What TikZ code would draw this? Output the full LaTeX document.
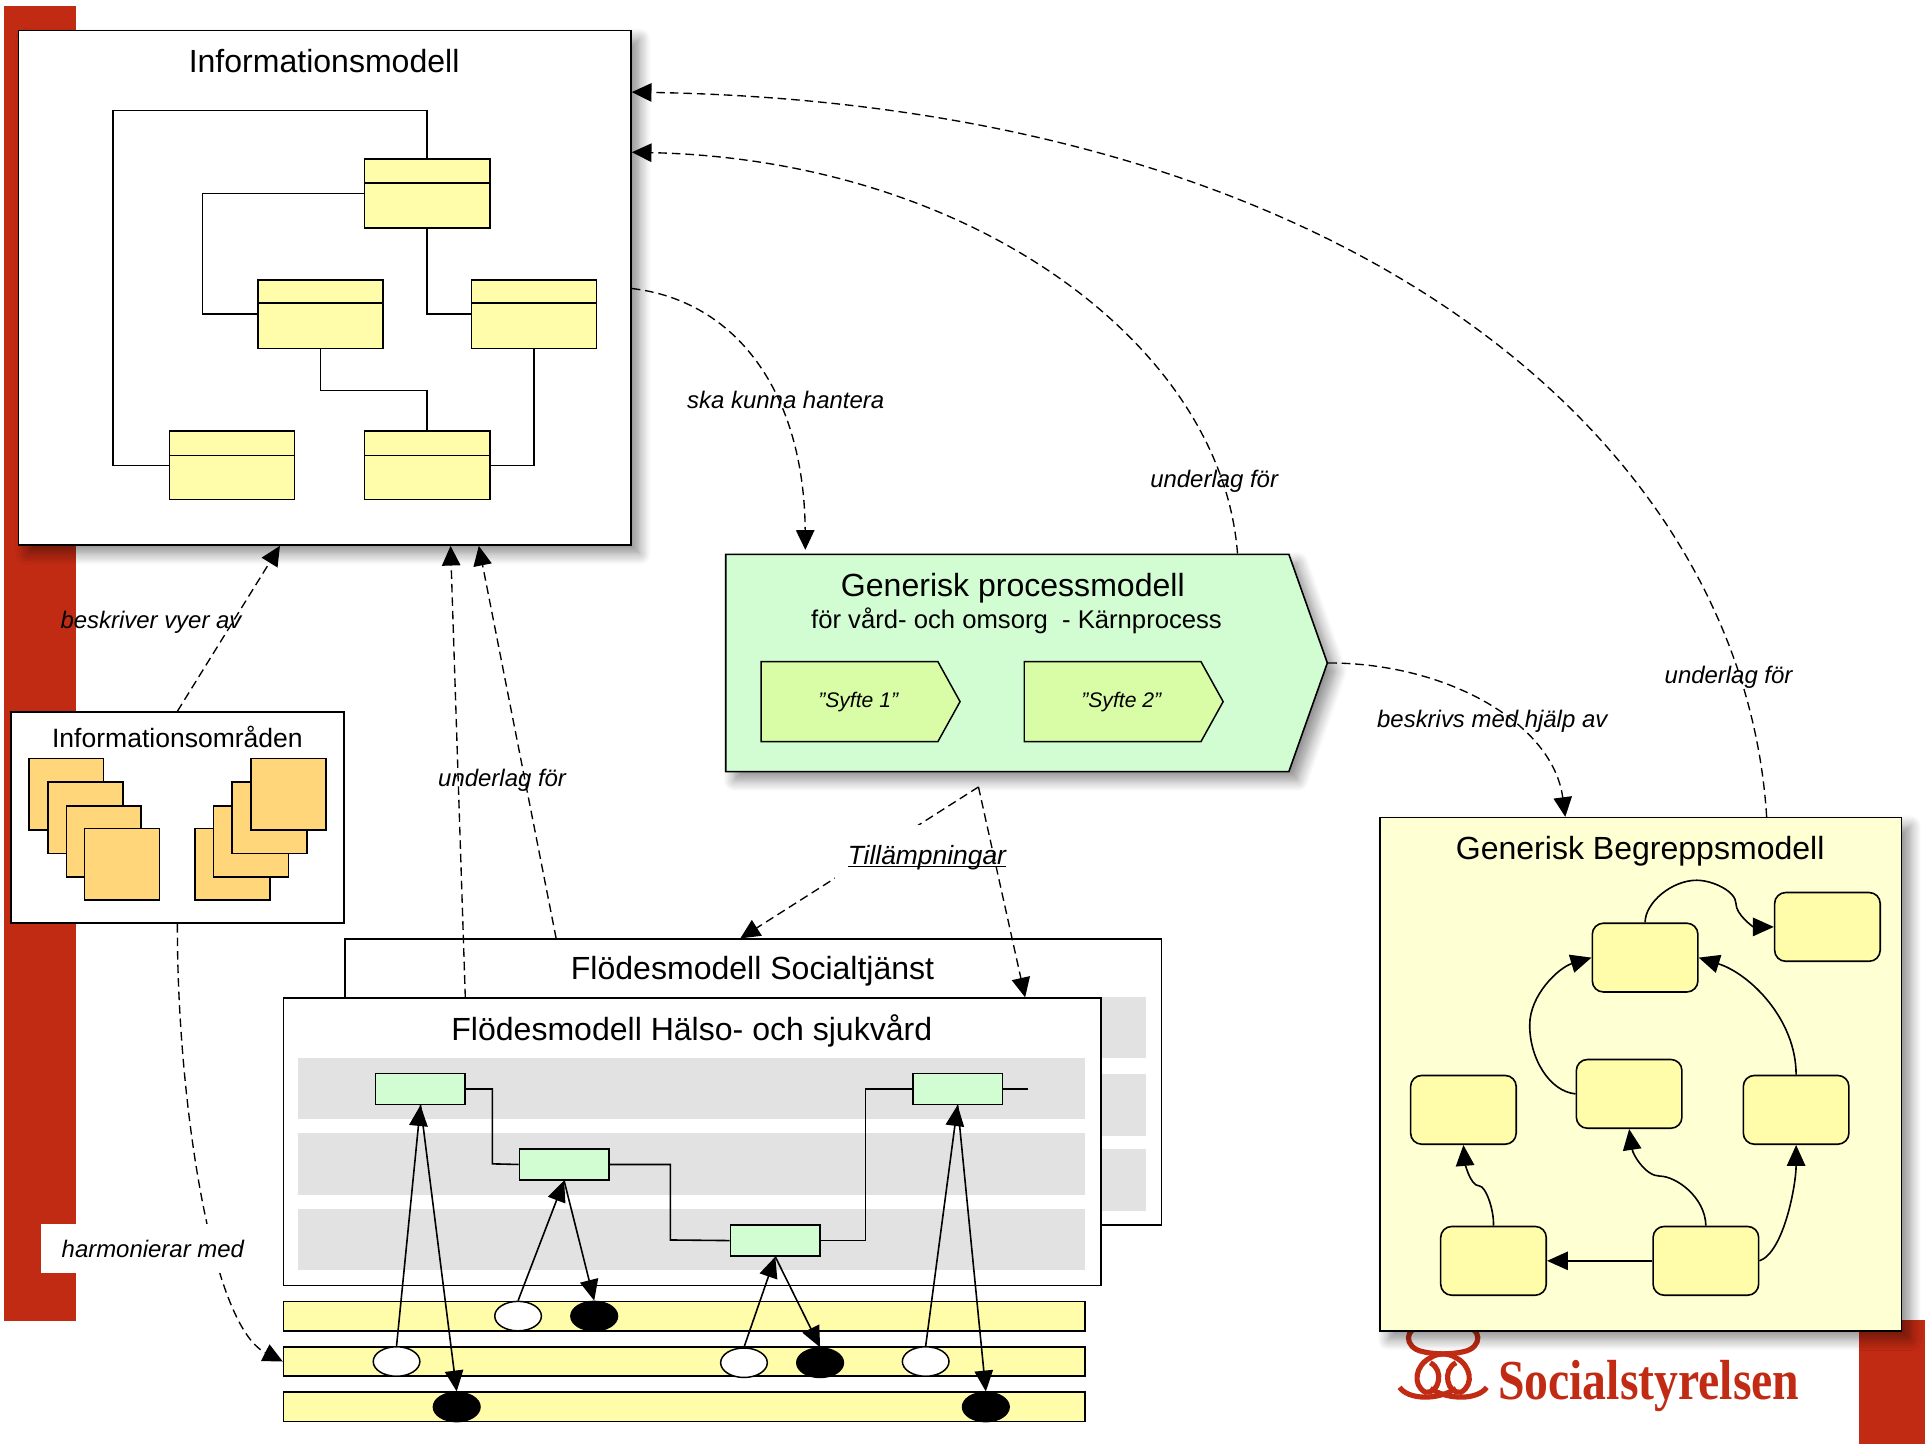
\documentclass[tikz,border=0pt]{standalone}
\usepackage{fontspec}
\setmainfont{Liberation Sans}
\newfontfamily\logofont[FakeStretch=0.845]{Liberation Serif}
\usepackage{tikz}
\usetikzlibrary{calc,positioning,arrows.meta,shapes.geometric,shapes.symbols,shadows.blur}
\definecolor{bandred}{HTML}{C12A13}
\definecolor{classyellow}{HTML}{FFFCAA}
\definecolor{paleyellow}{HTML}{FFFFD4}
\definecolor{procgreen}{HTML}{D2FDD2}
\definecolor{syftegreen}{HTML}{D8FDA6}
\definecolor{orangebox}{HTML}{FFD67A}
\definecolor{laneGray}{HTML}{E2E2E2}
\tikzset{
	bigtitle/.style={font=\fontsize{26.1}{30}\selectfont},
	edgelabel/.style={font=\fontsize{19.5}{23}\selectfont\itshape},
	modelbox/.style={draw, line width=1.3pt, inner sep=0pt},
	shadowed/.style={blur shadow={shadow blur steps=10, shadow xshift=7pt, shadow yshift=-7pt, shadow blur radius=9pt, shadow opacity=45}},
	classbox/.style={draw, fill=classyellow, line width=1.3pt, minimum width=102pt, minimum height=56pt, inner sep=0pt},
	stackbox/.style={draw, fill=orangebox, line width=1.2pt, minimum width=61pt, minimum height=58pt, inner sep=0pt},
	syftebox/.style={draw, fill=syftegreen, line width=1.2pt, signal, signal to=east, signal pointer angle=122, inner sep=0pt, minimum width=162pt, minimum height=65pt, font=\fontsize{17.2}{20}\selectfont\itshape},
	lane/.style={fill=laneGray, minimum width=641pt, minimum height=50pt, inner sep=0pt},
	activity/.style={draw, fill=procgreen, line width=1.3pt, minimum width=73pt, minimum height=25pt, inner sep=0pt},
	databar/.style={draw, fill=classyellow, line width=1.3pt, minimum width=653pt, minimum height=24pt, inner sep=0pt},
	openstate/.style={ellipse, draw, fill=white, line width=1.2pt, minimum width=38pt, minimum height=24pt, inner sep=0pt},
	fullstate/.style={ellipse, draw, fill=black, line width=1.2pt, minimum width=38pt, minimum height=24pt, inner sep=0pt},
	termbox/.style={draw, fill=classyellow, rounded corners=9pt, line width=1.3pt, minimum width=86pt, minimum height=56pt, inner sep=0pt},
	plain/.style={line width=1.3pt},
	logoline/.style={bandred, line width=4.2pt},
	dep/.style={dash pattern=on 7pt off 4pt, line width=1.1pt, -{Triangle[length=16pt,width=15pt]}},
	flowarrow/.style={line width=1.3pt, -{Triangle[length=17pt,width=15pt]}}
}
\begin{document}
\begin{tikzpicture}[x=1pt, y=-1pt]
	\useasboundingbox (0,0) rectangle (1568,1176);
	% Background bands and logo
	\fill[bandred] (3,5) rectangle (62,1076);
	\fill[bandred] (1514,1075) rectangle (1568,1176);
	\node[font=\logofont\bfseries\fontsize{46}{50}\selectfont, text=bandred, anchor=base west, inner sep=0pt] (Logo) at (1220,1140) {Socialstyrelsen};
	\draw[logoline] (1190,1080) .. controls (1208,1080) and (1208,1098) .. (1192,1101) .. controls (1180,1104) and (1172,1101) .. (1165,1106) .. controls (1153,1112) and (1150,1128) .. (1161,1134) .. controls (1172,1136) and (1177,1116) .. (1165,1110);
	\draw[logoline] (1161,1080) .. controls (1143,1080) and (1143,1098) .. (1159,1101) .. controls (1171,1104) and (1179,1101) .. (1186,1106) .. controls (1198,1112) and (1201,1128) .. (1190,1134) .. controls (1179,1136) and (1174,1116) .. (1186,1110);
	\draw[logoline] (1140,1130) .. controls (1147,1140) and (1170,1141) .. (1186,1131);
	\draw[logoline] (1211,1130) .. controls (1204,1140) and (1181,1141) .. (1165,1131);
	% Informationsmodell
	\node[modelbox, fill=white, shadowed, minimum width=499pt, minimum height=419pt] (Info) at (264.5,234.5) {};
	\node[bigtitle] (InfoTitle) at (264,50) {Informationsmodell};
	\node[classbox] (ClassTop) at (348,157.5) {};
	\node[classbox] (ClassLeft) at (261,256) {};
	\node[classbox] (ClassRight) at (435,256) {};
	\node[classbox] (ClassLow) at (189,379) {};
	\node[classbox] (ClassMid) at (348,379) {};
	\foreach \c/\y in {ClassTop/149,ClassLeft/247,ClassRight/247,ClassLow/371,ClassMid/371}
		\draw[plain] (\c.west |- 0,\y) -- (\c.east |- 0,\y);
	\draw[plain] (ClassTop.north) -- ++(0,-39) -| (92,379) -- (ClassLow.west);
	\draw[plain] (ClassTop.west) -| (165,256) -- (ClassLeft.west);
	\draw[plain] (ClassTop.south) |- (ClassRight.west);
	\draw[plain] (ClassLeft.south) |- (348,318) -- (ClassMid.north);
	\draw[plain] (ClassRight.south) |- (ClassMid.east);
	% Generisk processmodell
	\node[modelbox, fill=procgreen, shadowed, signal, signal to=east, signal pointer angle=141, minimum width=490pt, minimum height=177pt] (Process) at (820.5,540) {};
	\node[bigtitle] (ProcessTitle) at (825,479) {Generisk processmodell};
	\node[font=\fontsize{20.9}{25}\selectfont] (ProcessSub) at (828,506) {för vård- och omsorg\ \ - Kärnprocess};
	\node[syftebox] (SyfteOne) at (692,571.5) {\hspace*{14pt}\raisebox{-1.5pt}{”Syfte 1”}};
	\node[syftebox, right=51pt of SyfteOne] (SyfteTwo) {\hspace*{14pt}\raisebox{-1.5pt}{”Syfte 2”}};
	% Informationsomraden
	\node[modelbox, fill=white, minimum width=271pt, minimum height=172pt] (Omraden) at (144.5,666) {};
	\node[font=\fontsize{21.6}{26}\selectfont] (OmradenTitle) at (144.5,600.5) {Informationsområden};
	\node[stackbox] (LeftA) at (54,647) {};
	\node[stackbox] (LeftB) at (69.5,666) {};
	\node[stackbox] (LeftC) at (84.5,685.5) {};
	\node[stackbox] (LeftD) at (99.5,704) {};
	\node[stackbox] (RightA) at (189.5,704) {};
	\node[stackbox] (RightB) at (204.5,685.5) {};
	\node[stackbox] (RightC) at (219.5,666) {};
	\node[stackbox] (RightD) at (235,647) {};
	% Flodesmodeller
	\node[modelbox, fill=white, minimum width=665pt, minimum height=233pt] (FlowSoc) at (613.5,881.5) {};
	\node[bigtitle] (FlowSocTitle) at (613,791) {Flödesmodell Socialtjänst};
	\foreach \y [count=\i] in {837,900,961}
		\node[lane] (SocLane\i) at (613,\y) {};
	\node[modelbox, fill=white, minimum width=666pt, minimum height=234pt] (FlowHS) at (564,930) {};
	\node[bigtitle] (FlowHSTitle) at (563.5,840) {Flödesmodell Hälso- och sjukvård};
	\foreach \y [count=\i] in {886.5,948,1009.5}
		\node[lane] (Lane\i) at (563.5,\y) {};
	\node[activity] (ActA) at (342.5,887) {};
	\node[activity] (ActB) at (459.5,948.5) {};
	\node[activity] (ActC) at (631.5,1010.5) {};
	\node[activity] (ActD) at (780,887) {};
	\coordinate (ActEnd) at (837,887);
	\draw[plain] (ActA.east) -| (401,948) -- (ActB.west);
	\draw[plain] (ActB.east) -| (546,1010) -- (ActC.west);
	\draw[plain] (ActC.east) -| (705,887) -- (ActD.west);
	\draw[plain] (ActD.east) -- (ActEnd);
	% Databars and states
	\node[databar] (BarOne) at (557.5,1072) {};
	\node[databar] (BarTwo) at (557.5,1109) {};
	\node[databar] (BarThree) at (557.5,1146) {};
	\node[openstate] (OpenA) at (422,1072) {};
	\node[fullstate] (FullA) at (484,1072) {};
	\node[openstate] (OpenB) at (323,1109) {};
	\node[openstate] (OpenC) at (606,1110) {};
	\node[fullstate] (FullC) at (668,1110) {};
	\node[openstate] (OpenD) at (754,1109) {};
	\node[fullstate] (FullB) at (372,1146) {};
	\node[fullstate] (FullD) at (803,1146) {};
	\draw[flowarrow] (OpenB.north) -- (ActA.south);
	\draw[flowarrow] (ActA.south) -- (FullB.north);
	\draw[flowarrow] (OpenA.north) -- (ActB.south);
	\draw[flowarrow] (ActB.south) -- (FullA.north);
	\draw[flowarrow] (OpenC.north) -- (ActC.south);
	\draw[flowarrow] (ActC.south) -- (FullC.north);
	\draw[flowarrow] (OpenD.north) -- (ActD.south);
	\draw[flowarrow] (ActD.south) -- (FullD.north);
	% Generisk Begreppsmodell
	\node[modelbox, fill=paleyellow, shadowed, minimum width=425pt, minimum height=418pt] (Begrepp) at (1336.5,875) {};
	\node[bigtitle] (BegreppTitle) at (1336,693) {Generisk Begreppsmodell};
	\node[termbox] (TermA) at (1340,780) {};
	\node[termbox] (TermB) at (1488.5,755) {};
	\node[termbox] (TermC) at (1327,891) {};
	\node[termbox] (TermD) at (1463,904) {};
	\node[termbox] (TermE) at (1192,904) {};
	\node[termbox] (TermF) at (1216.5,1027) {};
	\node[termbox] (TermG) at (1389.5,1027) {};
	\draw[flowarrow] (TermG.west) -- (TermF.east);
	\draw[flowarrow] (TermG.east) .. controls (1453,1020) and (1463,965) .. (TermD.south);
	\draw[flowarrow] (TermG.north) .. controls (1389,975) and (1365,958) .. (1352,958) .. controls (1340,958) and (1330,940) .. (TermC.south);
	\draw[flowarrow] (TermF.north) .. controls (1217,985) and (1210,966) .. (1205,966) .. controls (1197,966) and (1193,945) .. (TermE.south);
	\draw[flowarrow] (TermC.west) .. controls (1262,889) and (1246,862) .. (1246,835) .. controls (1246,810) and (1270,788) .. (TermA.west);
	\draw[flowarrow] (TermD.north) .. controls (1463,830) and (1425,793) .. (TermA.east);
	\draw[flowarrow] (TermA.north) .. controls (1340,735) and (1362,717) .. (1382,717) .. controls (1395,717) and (1414,726) .. (1414,736) .. controls (1414,745) and (1428,755) .. (TermB.west);
	% Dashed dependencies
	\draw[dep, shorten >=3pt] (Info.east |- 0,235) .. controls (600,245) and (655,320) .. (Process.north -| 656,0);
	\node[edgelabel] (HanteraLabel) at (640,325.5) {ska kunna hantera};
	\draw[dep] (Process.north -| 1008,0) .. controls (995,280) and (790,130) .. (Info.east |- 0,124);
	\node[edgelabel] (UnderlagProc) at (989,392) {underlag för};
	\draw[dep] (Begrepp.north -| 1439,0) .. controls (1420,360) and (1100,85) .. (Info.east |- 0,75);
	\node[edgelabel] (UnderlagBegr) at (1408,551.5) {underlag för};
	\draw[dep] (Process.east) .. controls (1180,540) and (1265,590) .. (Begrepp.north -| 1275,0);
	\node[edgelabel] (BeskrivsLabel) at (1215.5,587.5) {beskrivs med hjälp av};
	\draw[dep] (Omraden.north) -- (Info.south -| 228,0);
	\node[edgelabel] (VyerLabel) at (123,507) {beskriver vyer av};
	\draw[dep] (FlowHS.north -| 379,0) -- (Info.south -| 367,0);
	\draw[dep] (FlowSoc.north -| 453,0) -- (Info.south -| 390,0);
	\node[edgelabel] (UnderlagFlow) at (409,635.5) {underlag för};
	% Tillampningar
	\coordinate (Fork) at (797,641);
	\draw[dep] (Fork) -- (FlowSoc.north -| 603,0);
	\node[fill=white, minimum width=150pt, minimum height=44pt, font=\fontsize{21.5}{25}\selectfont\itshape] (TillLabel) at (755,694) {\smash{\raisebox{-10pt}{\underline{\smash{Tillämpningar}}}}};
	\draw[dep] (Fork) -- (FlowHS.north -| 835,0);
	% Harmonierar
	\draw[dep] (Omraden.south) .. controls (144,890) and (171,1079) .. (BarTwo.west);
	\node[edgelabel, fill=white, minimum width=183pt, minimum height=40pt] (HarmLabel) at (124.5,1017) {harmonierar med};
\end{tikzpicture}
\end{document}
